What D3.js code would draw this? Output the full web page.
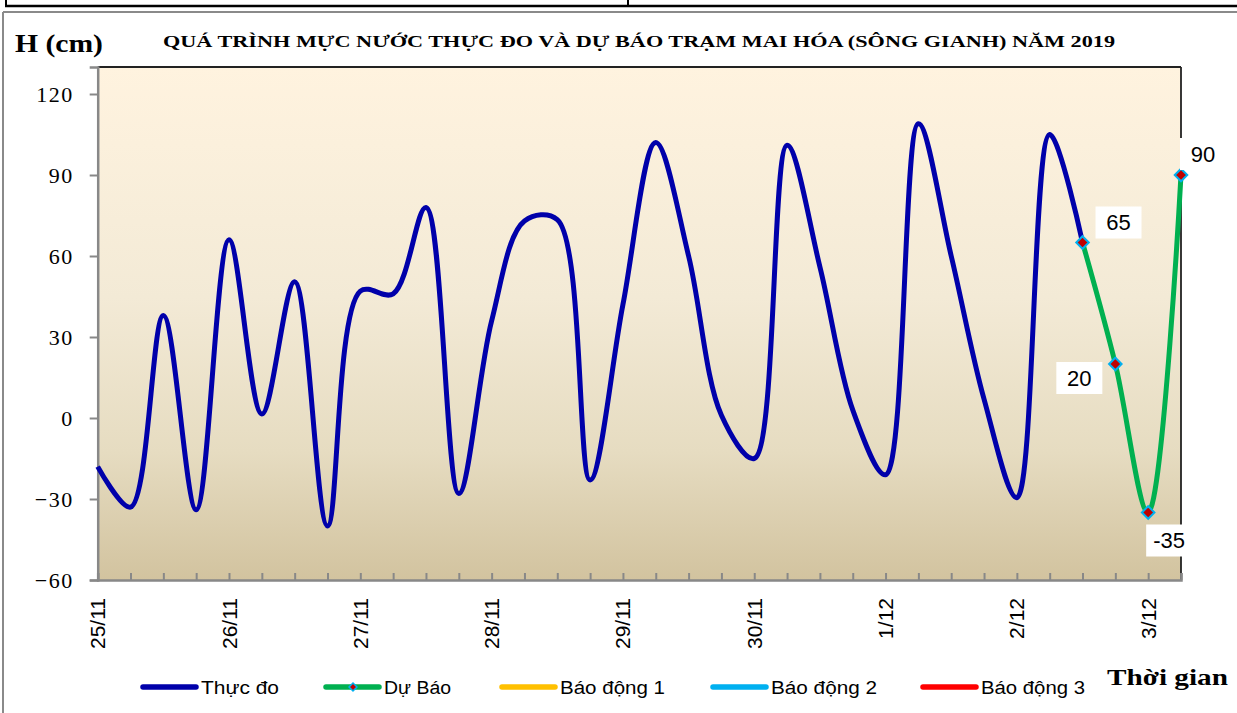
<!DOCTYPE html>
<html><head><meta charset="utf-8">
<script src="https://cdn.jsdelivr.net/npm/d3@7"></script>
<style>body{margin:0;background:#fff}svg{display:block}</style>
</head><body>
<svg id="c" width="1237" height="713"></svg>
<script>
// ---- data (6-hourly steps from 25/11) ----
const dayLabels = ["25/11","26/11","27/11","28/11","29/11","30/11","1/12","2/12","3/12"];
const thucDo = [-18,-33,38,-34,66,1.5,50.5,-40,47,46,78,-28,36,73,73.5,-23,42,102,60,1,-15,101,56,3,-21,109,60,7,-29.5,105,65];
const duBaoStart = 30;
const duBao = [65,20,-35,90];
const yTicks = [-60,-30,0,30,60,90,120];
const legendItems = ["Thực đo","Dự Báo","Báo động 1","Báo động 2","Báo động 3"];
const legendColors = ["#0000aa","#00b050","#ffc000","#00b0f0","#ff0000"];

const svg = d3.select("#c");
const L=97.7, R=1181, T=67, B=580;
const nSteps = 33;
const x = d3.scaleLinear().domain([0,nSteps]).range([L,R]);
const y = d3.scaleLinear().domain([-60,130]).range([B,T]);

// outer frame pieces
svg.append("line").attr("x1",5).attr("x2",1237).attr("y1",6).attr("y2",6).attr("stroke","#000").attr("stroke-width",2.5);
svg.append("line").attr("x1",6).attr("x2",6).attr("y1",0).attr("y2",6).attr("stroke","#000").attr("stroke-width",2);
svg.append("line").attr("x1",628).attr("x2",628).attr("y1",0).attr("y2",6).attr("stroke","#000").attr("stroke-width",2);
svg.append("line").attr("x1",3).attr("x2",1237).attr("y1",12).attr("y2",12).attr("stroke","#8a8a8a").attr("stroke-width",2);
svg.append("line").attr("x1",3).attr("x2",3).attr("y1",12).attr("y2",713).attr("stroke","#8a8a8a").attr("stroke-width",2);

// gradient background
const defs = svg.append("defs");
const g = defs.append("linearGradient").attr("id","bg").attr("x1",0).attr("x2",0).attr("y1",0).attr("y2",1);
[[0,"#fff3df"],[0.45,"#f3ead6"],[0.75,"#e6dcc1"],[1,"#d2c39f"]].forEach(s=>g.append("stop").attr("offset",s[0]).attr("stop-color",s[1]));
svg.append("rect").attr("x",L).attr("y",T).attr("width",R-L).attr("height",B-T).attr("fill","url(#bg)");

// borders
svg.append("line").attr("x1",L).attr("x2",R).attr("y1",T).attr("y2",T).attr("stroke","#222").attr("stroke-width",1.8);
svg.append("line").attr("x1",R).attr("x2",R).attr("y1",T).attr("y2",B).attr("stroke","#222").attr("stroke-width",1.8);

// y axis
const yAxis = d3.axisLeft(y).tickValues(yTicks).tickSize(8).tickPadding(16).tickFormat(d3.format("d"));
const ya = svg.append("g").attr("transform",`translate(${L},0)`).call(yAxis);
ya.select(".domain").attr("stroke","#888").attr("stroke-width",2.5);
ya.selectAll(".tick line").attr("stroke","#888").attr("stroke-width",2);
ya.selectAll(".tick text").attr("font-family","'Liberation Serif','Times New Roman',serif").attr("font-size",22)
  .attr("letter-spacing","1.5px").attr("fill","#000");

// x axis
const xAxis = d3.axisBottom(x).tickValues(d3.range(0,nSteps+1)).tickSize(-7).tickFormat(()=> "");
const xa = svg.append("g").attr("transform",`translate(0,${B})`).call(xAxis);
xa.select(".domain").attr("stroke","#888").attr("stroke-width",2.5);
xa.selectAll(".tick line").attr("stroke","#888").attr("stroke-width",2);
svg.append("g").selectAll("text").data(dayLabels).join("text")
  .attr("transform",(d,i)=>`translate(${x(i*4)},598) rotate(-90)`)
  .attr("text-anchor","end").attr("dy","0.36em")
  .attr("font-family","'Liberation Sans',Arial,sans-serif").attr("font-size",21).attr("fill","#000")
  .text(d=>d);

// lines
const line = d3.line().x(d=>x(d[0])).y(d=>y(d[1])).curve(d3.curveCatmullRom.alpha(0.5));
const obs = thucDo.map((v,i)=>[i,v]);
const fc = duBao.map((v,i)=>[duBaoStart+i,v]);
svg.append("path").attr("d",line(obs)).attr("fill","none").attr("stroke","#0000aa").attr("stroke-width",5).attr("stroke-linejoin","round");
svg.append("path").attr("d",line(fc)).attr("fill","none").attr("stroke","#00b050").attr("stroke-width",5).attr("stroke-linejoin","round");

// markers
const diamond = d3.symbol().type(d3.symbolDiamond2).size(100);
svg.append("g").selectAll("path").data(fc).join("path")
  .attr("transform",d=>`translate(${x(d[0])},${y(d[1])})`)
  .attr("d",diamond).attr("fill","#c00000").attr("stroke","#00b0f0").attr("stroke-width",2);

// data labels
const lblOff = [[36,-20],[-36,14],[21,28],[22,-21]];
const lg = svg.append("g");
fc.forEach((d,i)=>{
  const cx = x(d[0])+lblOff[i][0], cy = y(d[1])+lblOff[i][1];
  lg.append("rect").attr("x",cx-23).attr("y",cy-16).attr("width",46).attr("height",32).attr("fill","#fff");
  lg.append("text").attr("x",cx).attr("y",cy).attr("dy","0.36em").attr("text-anchor","middle")
    .attr("font-family","'Liberation Sans',Arial,sans-serif").attr("font-size",22).attr("fill","#000").text(d[1]);
});

// titles
svg.append("text").attr("x",15).attr("y",52).attr("textLength",88).attr("lengthAdjust","spacingAndGlyphs")
  .attr("font-family","'Liberation Serif','Times New Roman',serif")
  .attr("font-weight","bold").attr("font-size",25).text("H (cm)");
svg.append("text").attr("x",163).attr("y",47).attr("textLength",952).attr("lengthAdjust","spacingAndGlyphs")
  .attr("font-family","'Liberation Serif','Times New Roman',serif").attr("font-weight","bold").attr("font-size",17)
  .text("QUÁ TRÌNH MỰC NƯỚC THỰC ĐO VÀ DỰ BÁO TRẠM MAI HÓA (SÔNG GIANH) NĂM  2019");
svg.append("text").attr("x",1107).attr("y",685).attr("textLength",121).attr("lengthAdjust","spacingAndGlyphs")
  .attr("font-family","'Liberation Serif','Times New Roman',serif").attr("font-weight","bold").attr("font-size",23).text("Thời gian");

// legend
const legX = [143,326,502,713,923];
const legW = [78,67,105,106,104];
const leg = svg.append("g");
legendItems.forEach((t,i)=>{
  leg.append("line").attr("x1",legX[i]).attr("x2",legX[i]+53).attr("y1",687).attr("y2",687)
    .attr("stroke",legendColors[i]).attr("stroke-width",5.5).attr("stroke-linecap","round");
  if(i===1){
    leg.append("path").attr("transform",`translate(${legX[i]+27},687)`).attr("d",d3.symbol().type(d3.symbolDiamond2).size(40))
      .attr("fill","#c00000").attr("stroke","#00b0f0").attr("stroke-width",1.5);
  }
  leg.append("text").attr("x",legX[i]+58).attr("y",694).attr("textLength",legW[i]).attr("lengthAdjust","spacingAndGlyphs")
    .attr("font-family","'Liberation Sans',Arial,sans-serif").attr("font-size",18).text(t);
});
</script>
</body></html>
